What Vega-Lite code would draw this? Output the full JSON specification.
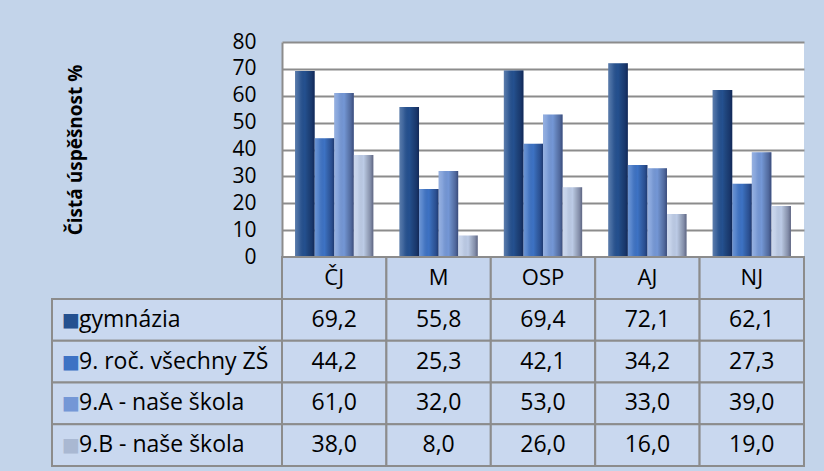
{
  "$schema": "https://vega.github.io/schema/vega-lite/v6.json",
  "background": "#c3d4ea",
  "padding": {"left": 51, "top": 31, "right": 20, "bottom": 4},
  "config": {
    "view": {"stroke": null},
    "font": "Open Sans",
    "locale": {"number": {"decimal": ",", "thousands": " ", "grouping": [3], "currency": ["", " Kč"]}}
  },
  "datasets": {
    "scores": [
      {"subject": "ČJ", "series": "gymnázia", "value": 69.2},
      {"subject": "M", "series": "gymnázia", "value": 55.8},
      {"subject": "OSP", "series": "gymnázia", "value": 69.4},
      {"subject": "AJ", "series": "gymnázia", "value": 72.1},
      {"subject": "NJ", "series": "gymnázia", "value": 62.1},
      {"subject": "ČJ", "series": "9. roč. všechny ZŠ", "value": 44.2},
      {"subject": "M", "series": "9. roč. všechny ZŠ", "value": 25.3},
      {"subject": "OSP", "series": "9. roč. všechny ZŠ", "value": 42.1},
      {"subject": "AJ", "series": "9. roč. všechny ZŠ", "value": 34.2},
      {"subject": "NJ", "series": "9. roč. všechny ZŠ", "value": 27.3},
      {"subject": "ČJ", "series": "9.A - naše škola", "value": 61.0},
      {"subject": "M", "series": "9.A - naše škola", "value": 32.0},
      {"subject": "OSP", "series": "9.A - naše škola", "value": 53.0},
      {"subject": "AJ", "series": "9.A - naše škola", "value": 33.0},
      {"subject": "NJ", "series": "9.A - naše škola", "value": 39.0},
      {"subject": "ČJ", "series": "9.B - naše škola", "value": 38.0},
      {"subject": "M", "series": "9.B - naše škola", "value": 8.0},
      {"subject": "OSP", "series": "9.B - naše škola", "value": 26.0},
      {"subject": "AJ", "series": "9.B - naše škola", "value": 16.0},
      {"subject": "NJ", "series": "9.B - naše škola", "value": 19.0}
    ],
    "subjects": [
      {"subject": "ČJ"}, {"subject": "M"}, {"subject": "OSP"}, {"subject": "AJ"}, {"subject": "NJ"}
    ],
    "seriesList": [
      {"series": "gymnázia"}, {"series": "9. roč. všechny ZŠ"}, {"series": "9.A - naše škola"}, {"series": "9.B - naše škola"}
    ]
  },
  "columns": 2,
  "spacing": 0,
  "bounds": "flush",
  "align": "each",
  "resolve": {"scale": {"x": "independent", "y": "independent", "color": "independent", "xOffset": "independent"}},
  "concat": [
    {
      "width": 230, "height": 215,
      "data": {"values": [{"k": 1}]},
      "mark": {"type": "text", "text": ""}
    },
    {
      "width": 522, "height": 215,
      "view": {"fill": "#ffffff", "stroke": null},
      "data": {"name": "scores"},
      "encoding": {
        "x": {"field": "subject", "type": "nominal", "sort": ["ČJ", "M", "OSP", "AJ", "NJ"],
              "scale": {"paddingInner": 0.25, "paddingOuter": 0.125}, "axis": null},
        "xOffset": {"field": "series", "type": "nominal",
                    "sort": ["gymnázia", "9. roč. všechny ZŠ", "9.A - naše škola", "9.B - naše škola"]},
        "y": {"field": "value", "type": "quantitative",
              "scale": {"domain": [0, 80], "nice": false},
              "axis": {"values": [0, 10, 20, 30, 40, 50, 60, 70, 80], "grid": true,
                       "gridColor": "#8c8c8c", "gridWidth": 2, "domainColor": "#8c8c8c", "domainWidth": 2,
                       "ticks": false, "labelPadding": 26, "labelFont": "Open Sans", "labelFontSize": 21,
                       "labelColor": "#000000",
                       "title": "Čistá úspěšnost %", "titleFont": "Open Sans", "titleFontSize": 19,
                       "titleFontWeight": "bold", "titleColor": "#000000", "titleX": -207, "titleY": 107.5,
                       "titleAngle": -90, "titleAlign": "center", "titleBaseline": "middle"}}
      },
      "layer": [
        {
          "mark": {"type": "bar"},
          "encoding": {
            "color": {"field": "series", "type": "nominal",
                      "scale": {"domain": ["gymnázia", "9. roč. všechny ZŠ", "9.A - naše škola", "9.B - naše škola"],
                                "range": ["#24508f", "#3d72c4", "#7497d6", "#bccbe6"]},
                      "legend": null}
          }
        },
        {
          "mark": {"type": "bar",
                   "color": {"gradient": "linear", "x1": 0, "y1": 0, "x2": 1, "y2": 0,
                             "stops": [
                               {"offset": 0, "color": "rgba(255,255,255,0.25)"},
                               {"offset": 0.2, "color": "rgba(255,255,255,0.12)"},
                               {"offset": 0.5, "color": "rgba(0,0,0,0)"},
                               {"offset": 0.85, "color": "rgba(0,0,30,0.3)"},
                               {"offset": 1, "color": "rgba(0,0,30,0.5)"}
                             ]}}
        }
      ]
    },
    {
      "width": 230, "height": 42,
      "data": {"values": [{"k": 1}]},
      "mark": {"type": "text", "text": ""}
    },
    {
      "width": 522, "height": 42,
      "data": {"name": "subjects"},
      "encoding": {
        "x": {"field": "subject", "type": "nominal", "sort": ["ČJ", "M", "OSP", "AJ", "NJ"],
              "scale": {"padding": 0}, "axis": null}
      },
      "layer": [
        {"mark": {"type": "rect", "fill": "#c5d5ee", "stroke": "#8c8c8c", "strokeWidth": 2}},
        {"mark": {"type": "text", "font": "Open Sans", "fontSize": 22, "color": "#000000"},
         "encoding": {"text": {"field": "subject"}}}
      ]
    },
    {
      "width": 230, "height": 167,
      "data": {"name": "seriesList"},
      "encoding": {
        "y": {"field": "series", "type": "nominal",
              "sort": ["gymnázia", "9. roč. všechny ZŠ", "9.A - naše škola", "9.B - naše škola"],
              "scale": {"padding": 0}, "axis": null}
      },
      "layer": [
        {"mark": {"type": "rect", "fill": "#c9d8ef", "stroke": "#8c8c8c", "strokeWidth": 2}},
        {"mark": {"type": "text", "text": "■", "font": "DejaVu Sans", "fontSize": 19, "align": "left", "dx": -105},
         "encoding": {"color": {"field": "series", "type": "nominal",
                      "scale": {"domain": ["gymnázia", "9. roč. všechny ZŠ", "9.A - naše škola", "9.B - naše škola"],
                                "range": ["#24508f", "#3d72c4", "#7497d6", "#a9b8d2"]},
                      "legend": null}}},
        {"mark": {"type": "text", "font": "Open Sans", "fontSize": 23, "align": "left", "dx": -88, "color": "#000000"},
         "encoding": {"text": {"field": "series"}}}
      ]
    },
    {
      "width": 522, "height": 167,
      "data": {"name": "scores"},
      "encoding": {
        "x": {"field": "subject", "type": "nominal", "sort": ["ČJ", "M", "OSP", "AJ", "NJ"],
              "scale": {"padding": 0}, "axis": null},
        "y": {"field": "series", "type": "nominal",
              "sort": ["gymnázia", "9. roč. všechny ZŠ", "9.A - naše škola", "9.B - naše škola"],
              "scale": {"padding": 0}, "axis": null}
      },
      "layer": [
        {"mark": {"type": "rect", "fill": "#c9d8ef", "stroke": "#8c8c8c", "strokeWidth": 2}},
        {"mark": {"type": "text", "font": "Open Sans", "fontSize": 23, "color": "#000000"},
         "encoding": {"text": {"field": "value", "type": "quantitative", "format": ".1f"}}}
      ]
    }
  ]
}
